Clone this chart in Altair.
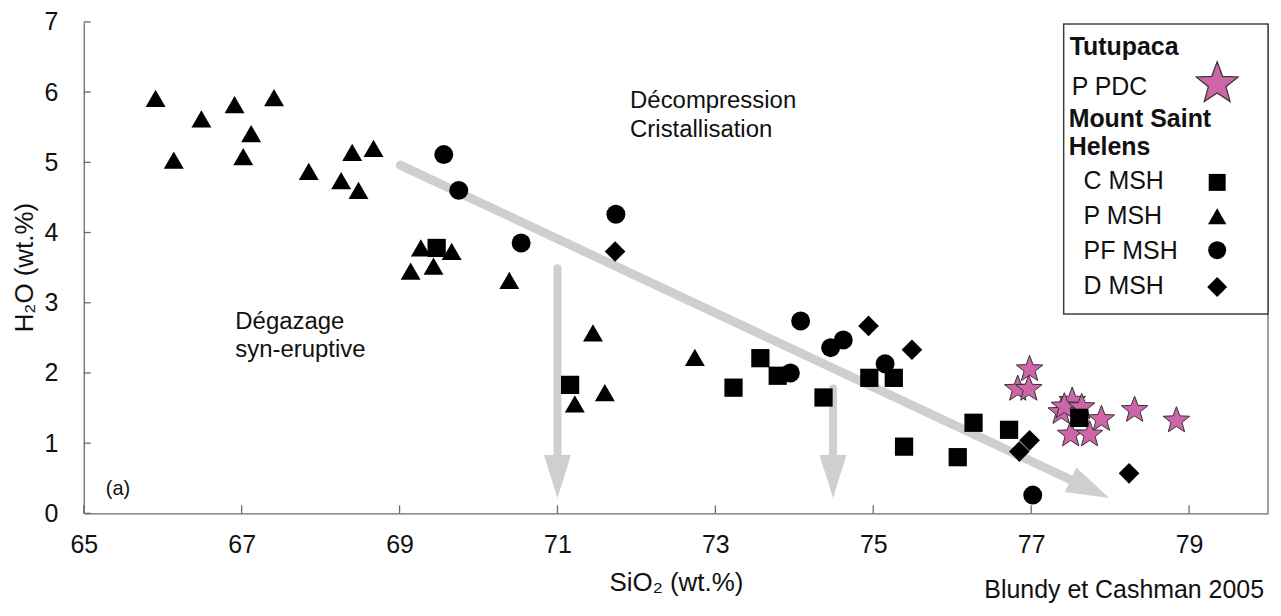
import math
import altair as alt
import pandas as pd

# ---------------- data ----------------
# Tutupaca, P PDC (stars)
ppdc_x = [76.98, 76.83, 76.97, 77.52, 77.38, 77.42, 77.64, 77.89, 77.50, 77.74, 78.31, 78.84]
ppdc_y = [2.07, 1.79, 1.79, 1.62, 1.46, 1.54, 1.53, 1.36, 1.14, 1.14, 1.49, 1.34]
# Mount Saint Helens, C MSH (squares)
cmsh_x = [69.47, 71.16, 73.23, 73.57, 73.79, 74.37, 74.95, 75.26, 75.39, 76.07, 76.27, 76.72, 77.61]
cmsh_y = [3.78, 1.83, 1.79, 2.21, 1.96, 1.65, 1.93, 1.93, 0.95, 0.80, 1.29, 1.19, 1.36]
# P MSH (triangles)
pmsh_x = [65.91, 66.14, 66.49, 66.91, 67.02, 67.12, 67.41, 67.85, 68.26, 68.40, 68.48, 68.67,
          69.14, 69.27, 69.43, 69.66, 70.39, 71.45, 71.22, 71.60, 72.74]
pmsh_y = [5.91, 5.03, 5.62, 5.82, 5.08, 5.41, 5.92, 4.87, 4.74, 5.14, 4.60, 5.20,
          3.45, 3.78, 3.52, 3.73, 3.32, 2.57, 1.56, 1.72, 2.22]
# PF MSH (circles)
pfmsh_x = [69.56, 69.75, 70.54, 71.74, 74.08, 74.46, 74.62, 73.95, 75.15, 77.02]
pfmsh_y = [5.11, 4.60, 3.85, 4.26, 2.74, 2.36, 2.47, 2.00, 2.13, 0.26]
# D MSH (diamonds)
dmsh_x = [71.73, 74.94, 75.49, 76.98, 76.85, 78.24]
dmsh_y = [3.73, 2.67, 2.33, 1.04, 0.88, 0.57]

# arrows (start -> tip)
arrow_x1 = [69.01, 71.0, 74.49]
arrow_y1 = [4.96, 3.49, 1.78]
arrow_x2 = [77.99, 71.0, 74.49]
arrow_y2 = [0.22, 0.22, 0.22]

# annotations
ann_text = ["Décompression", "Cristallisation", "Dégazage", "syn-eruptive"]
ann_x = [71.92, 71.92, 66.92, 66.92]
ann_y = [5.77, 5.36, 2.63, 2.22]
panel_label = "(a)"
source_text = "Blundy et Cashman 2005"

x_ticks = [65, 67, 69, 71, 73, 75, 77, 79]
y_ticks = [0, 1, 2, 3, 4, 5, 6, 7]

# ---------------- layout ----------------
W, H = 1188, 493
XD, YD = [65, 80], [0, 7]
pxx = W / (XD[1] - XD[0])
pxy = H / (YD[1] - YD[0])
FONT = "Liberation Sans"
TXT = "#111111"
AX = "#6b6b6b"
GRAY = "#d0cece"
PINK = "#cc66a8"

# five-pointed star symbol path (unit radius, bbox-centred)
_pts = []
for k in range(10):
    r = 1.0 if k % 2 == 0 else 0.42
    a = math.radians(-90 + 36 * k)
    _pts.append((r * math.cos(a), r * math.sin(a) + 0.095))
STAR = "M" + "L".join(f"{px:.3f},{py:.3f}" for px, py in _pts) + "Z"

xs = alt.Scale(domain=XD, nice=False, zero=False)
ys = alt.Scale(domain=YD, nice=False, zero=False)

xaxis = alt.Axis(values=x_ticks, title="SiO₂ (wt.%)", grid=False, ticks=False, tickSize=0,
                 labelFont=FONT, labelFontSize=25, labelColor=TXT, labelPadding=39,
                 labelBaseline="alphabetic", labelFlush=False, labelOverlap=False,
                 domainColor=AX, domainWidth=1.3,
                 titleFont=FONT, titleFontSize=26, titleFontWeight="normal", titleColor=TXT,
                 titleX=W / 2, titleY=77, titleBaseline="alphabetic", titleAlign="center")
yaxis = alt.Axis(values=y_ticks, title="H₂O (wt.%)", grid=False, ticks=False, tickSize=0,
                 labelFont=FONT, labelFontSize=25, labelColor=TXT, labelPadding=26,
                 labelOverlap=False, domainColor=AX, domainWidth=1.3,
                 titleFont=FONT, titleFontSize=26, titleFontWeight="normal", titleColor=TXT,
                 titleX=-51, titleY=246, titleAngle=270, titleBaseline="alphabetic",
                 titleAlign="center")


def X(f="x"):
    return alt.X(f"{f}:Q", scale=xs, axis=xaxis)


def Y(f="y"):
    return alt.Y(f"{f}:Q", scale=ys, axis=yaxis)


# ---------------- axis tick marks (inside) ----------------
xt = pd.DataFrame({"x": x_ticks, "y": 0.0, "y2": 8 / pxy})
yt = pd.DataFrame({"x": 65.0, "x2": 65 + 7 / pxx, "y": y_ticks})
xtick_layer = alt.Chart(xt).mark_rule(color=AX, strokeWidth=1.3).encode(x=X(), y=Y(), y2="y2:Q")
ytick_layer = alt.Chart(yt).mark_rule(color=AX, strokeWidth=1.3).encode(x=X(), x2="x2:Q", y=Y())

# ---------------- arrows ----------------
rows = []
for i, (x1, y1, x2, y2) in enumerate(zip(arrow_x1, arrow_y1, arrow_x2, arrow_y2)):
    dxp = (x2 - x1) * pxx
    dyp = -(y2 - y1) * pxy
    L = math.hypot(dxp, dyp)
    ux, uy = dxp / L, dyp / L
    back = 38
    rows.append({"x": x1, "y": y1, "xe": x2 - ux * back / pxx, "ye": y2 + uy * back / pxy,
                 "xt": x2, "yt": y2,
                 "ang": (math.degrees(math.atan2(dyp, dxp)) - 90) % 360,
                 "w": 9 if i == 0 else 8})
adf = pd.DataFrame(rows)
shaft = alt.Chart(adf).mark_rule(color=GRAY, strokeCap="round").encode(
    x=X(), y=Y(), x2="xe:Q", y2="ye:Q",
    strokeWidth=alt.StrokeWidth("w:Q", scale=None, legend=None))
head = alt.Chart(adf).mark_point(shape="M0,0L-0.63,-2L0.63,-2Z", size=1849, filled=True,
                                 color=GRAY, opacity=1, strokeWidth=0).encode(
    x=X("xt"), y=Y("yt"), angle=alt.Angle("ang:Q", scale=None))


# ---------------- data points ----------------
def pts(xv, yv, shape, size, fill, stroke=None):
    df = pd.DataFrame({"x": xv, "y": yv})
    kw = dict(shape=shape, size=size, filled=True, fill=fill, opacity=1, fillOpacity=1)
    if stroke:
        kw.update(stroke=stroke, strokeWidth=1, strokeOpacity=1)
    else:
        kw.update(strokeWidth=0)
    return alt.Chart(df).mark_point(**kw).encode(x=X(), y=Y())


stars = pts(ppdc_x, ppdc_y, STAR, 780, PINK, "#333333")
squares = pts(cmsh_x, cmsh_y, "square", 335, "#000000")
tris = pts(pmsh_x, pmsh_y, "triangle-up", 400, "#000000")
circles = pts(pfmsh_x, pfmsh_y, "circle", 361, "#000000")
diamonds = pts(dmsh_x, dmsh_y, "diamond", 430, "#000000")

# ---------------- annotations ----------------
ann = alt.Chart(pd.DataFrame({"x": ann_x, "y": ann_y, "t": ann_text})).mark_text(
    align="left", baseline="alphabetic", font=FONT, fontSize=24, color=TXT).encode(
    x=X(), y=Y(), text="t:N")
panel = alt.Chart(pd.DataFrame({"x": [65.28], "y": [0.26], "t": [panel_label]})).mark_text(
    align="left", baseline="alphabetic", font=FONT, fontSize=20, color=TXT).encode(
    x=X(), y=Y(), text="t:N")
source = alt.Chart(pd.DataFrame({"t": [source_text]})).mark_text(
    align="right", baseline="alphabetic", font=FONT, fontSize=25, color=TXT).encode(
    x=alt.value(1184), y=alt.value(578), text="t:N")

# ---------------- frame + legend ----------------
one = pd.DataFrame({"a": [0]})
border = alt.Chart(one).mark_rule(color=AX, strokeWidth=1.3).encode(
    x=alt.value(W), y=alt.value(2), y2=alt.value(H))
box = alt.Chart(one).mark_rect(fill="white", stroke="#404040", strokeWidth=1.5).encode(
    x=alt.value(983), x2=alt.value(W), y=alt.value(2), y2=alt.value(293))

legend_layers = [border, box]
leg_text = [("Tutupaca", 989, 33, "bold"), ("P PDC", 991, 73, "normal"),
            ("Mount Saint", 988, 105, "bold"), ("Helens", 988, 134, "bold"),
            ("C MSH", 1003, 168, "normal"), ("P MSH", 1003, 203, "normal"),
            ("PF MSH", 1003, 238, "normal"), ("D MSH", 1003, 273, "normal")]
for t, lx, ly, fw in leg_text:
    legend_layers.append(alt.Chart(pd.DataFrame({"t": [t]})).mark_text(
        align="left", baseline="alphabetic", font=FONT, fontSize=25, fontWeight=fw,
        color=TXT).encode(x=alt.value(lx), y=alt.value(ly), text="t:N"))
leg_sym = [(STAR, 1950, 60, PINK, "#333333"), ("square", 289, 161, "#000000", None),
           ("triangle-up", 340, 195, "#000000", None), ("circle", 324, 229, "#000000", None),
           ("diamond", 400, 266, "#000000", None)]
for shp, sz, ly, fc, sc in leg_sym:
    kw = dict(shape=shp, size=sz, filled=True, fill=fc, opacity=1)
    if sc:
        kw.update(stroke=sc, strokeWidth=1.2)
    else:
        kw.update(strokeWidth=0)
    legend_layers.append(alt.Chart(one).mark_point(**kw).encode(
        x=alt.value(1137), y=alt.value(ly)))

chart = alt.layer(
    xtick_layer, ytick_layer, shaft, head, stars, squares, tris, circles, diamonds,
    ann, panel, source, *legend_layers
).properties(
    width=W, height=H,
    padding={"left": 76, "top": 13, "right": 5, "bottom": 90},
    autosize=alt.AutoSizeParams(type="none"),
).configure_view(stroke=None)

chart.save("out.html", embed_options={"renderer": "svg", "actions": False})
